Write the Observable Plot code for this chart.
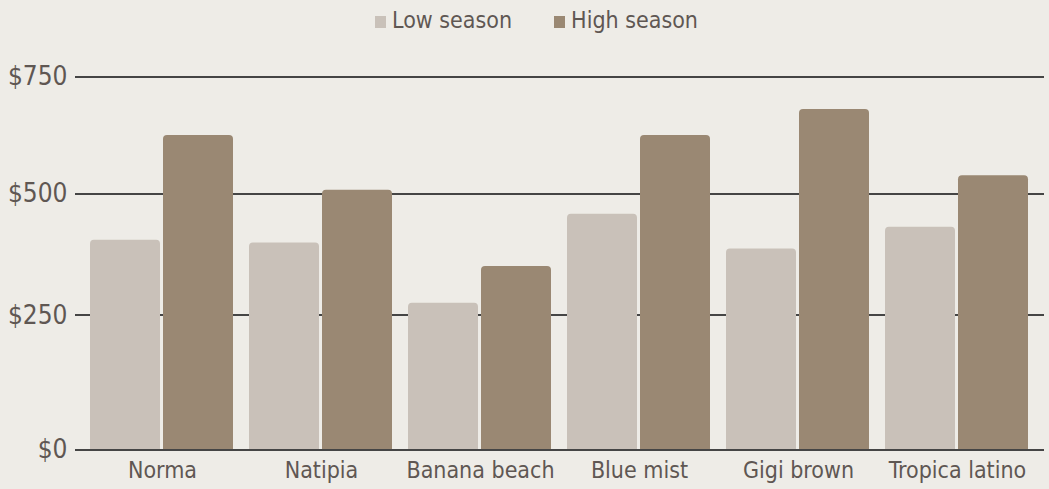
<!DOCTYPE html>
<html><head><meta charset="utf-8">
<script src="https://cdn.jsdelivr.net/npm/d3@7"></script>
<script src="https://cdn.jsdelivr.net/npm/@observablehq/plot@0.6"></script>
<style>
body{margin:0;background:#eeece7;font-family:"DejaVu Sans",sans-serif;font-stretch:condensed;color:#5f5753}
#legend{height:44px;box-sizing:border-box;padding-top:9px;padding-left:24px;display:flex;justify-content:center;gap:42px;font-size:23px;line-height:23px}
.item{display:inline-flex;align-items:baseline}
.sw{display:inline-block;width:11px;height:12px;margin-right:6px}
svg text{font-stretch:condensed}
</style></head><body>
<div id="legend"></div><div id="chart"></div>
<script>
const hotels = ["Norma","Natipia","Banana beach","Blue mist","Gigi brown","Tropica latino"];
const lowSeason = [403, 397, 274, 457, 385, 430];
const highSeason = [623, 507, 349, 623, 679, 538];
const seriesNames = ["Low season","High season"];
const seriesColors = ["#c9c1b9","#9a8873"];
const yTicks = [0, 250, 500, 750];
const yTickLabels = ["$0", "$250", "$500", "$750"];

const data = hotels.flatMap((h, i) => [
  {hotel: h, season: seriesNames[0], price: lowSeason[i]},
  {hotel: h, season: seriesNames[1], price: highSeason[i]}
]);

const legend = document.getElementById("legend");
seriesNames.forEach((s, i) => {
  const it = document.createElement("span");
  it.className = "item";
  const sw = document.createElement("span");
  sw.className = "sw";
  sw.style.background = seriesColors[i];
  it.appendChild(sw);
  it.appendChild(document.createTextNode(s));
  legend.appendChild(it);
});

const font = '"DejaVu Sans",sans-serif';
const chart = Plot.plot({
  width: 1049, height: 445,
  marginTop: 32, marginBottom: 40, marginLeft: 90, marginRight: 20,
  style: {background: "transparent", fontFamily: font, fontSize: "23px", color: "#5f5753"},
  fx: {domain: hotels, paddingInner: 15/159, paddingOuter: 0, label: null, axis: null},
  x: {domain: seriesNames, paddingInner: 0.035, paddingOuter: 0, axis: null},
  y: {type: "pow", exponent: 0.93, domain: [0, 750], axis: null},
  color: {domain: seriesNames, range: seriesColors},
  marks: [
    Plot.ruleY(yTicks.filter(d => d > 0), {stroke: "#454545", strokeWidth: 2, shapeRendering: "crispEdges", insetLeft: -15, insetRight: -15}),
    Plot.barY(data, {fx: "hotel", x: "season", y: "price", fill: "season", rx: 4, insetBottom: -6, clip: true}),
    Plot.ruleY([0], {stroke: "#454545", strokeWidth: 2, shapeRendering: "crispEdges", insetLeft: -15, insetRight: -15}),
    Plot.axisY(yTicks, {tickSize: 0, tickPadding: 23, tickFormat: d => yTickLabels[yTicks.indexOf(d)], fontSize: 26, label: null}),
    Plot.axisFx({anchor: "bottom", tickSize: 0, tickPadding: 12, label: null, fontSize: 23})
  ]
});
document.getElementById("chart").appendChild(chart);
</script>
</body></html>
